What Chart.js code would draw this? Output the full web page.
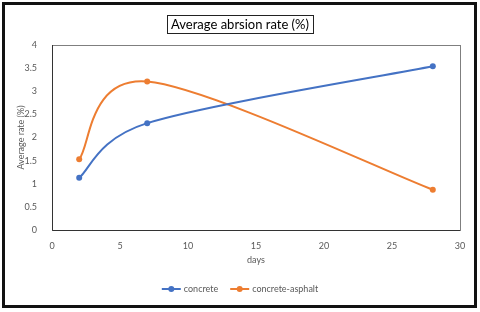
<!DOCTYPE html>
<html>
<head>
<meta charset="utf-8">
<script src="https://cdn.jsdelivr.net/npm/chart.js@4/dist/chart.umd.min.js"></script>
<style>
  body { margin: 0; background: #fff; }
  #wrap { width: 480px; height: 312px; }
</style>
</head>
<body>
<div id="wrap"><canvas id="abrasionChart" width="480" height="312"></canvas></div>
<script>
// chart values
const chartTitle = 'Average abrsion rate (%)';
const xTitle = 'days';
const yTitle = 'Average rate (%)';
const seriesNames = ['concrete', 'concrete-asphalt'];
const days = [2, 7, 28];
const concreteRate = [1.13, 2.31, 3.54];
const asphaltRate = [1.53, 3.21, 0.87];
const seriesColors = ['#4472c4', '#ed7d31'];

const FONT = 'Lato, "Open Sans", sans-serif';
const GREY = '#595959';

function toPoints(values) {
    return days.map((d, i) => ({ x: d, y: values[i] }));
}

// spreadsheet style smoothing: catmull-rom arms (1/6), capped on short segments
const smoothPlugin = {
    id: 'smooth',
    beforeDatasetsDraw(chart) {
        chart.data.datasets.forEach((ds, di) => {
            const meta = chart.getDatasetMeta(di);
            if (!meta.dataset) return;
            meta.dataset.updateControlPoints(chart.chartArea, 'x');
            const pts = meta.data;
            const n = pts.length;
            const dist = (a, b) => Math.hypot(b.x - a.x, b.y - a.y);
            for (let i = 0; i < n - 1; i++) {
                const p0 = pts[Math.max(i - 1, 0)];
                const p1 = pts[i];
                const p2 = pts[i + 1];
                const p3 = pts[Math.min(i + 2, n - 1)];
                const d12 = dist(p1, p2);
                const d02 = dist(p0, p2) || 1;
                const d13 = dist(p1, p3) || 1;
                const f0 = Math.min(1 / 6, 0.6 * d12 / d02);
                const f1 = Math.min(1 / 6, 0.6 * d12 / d13);
                p1.cp2x = p1.x + f0 * (p2.x - p0.x);
                p1.cp2y = p1.y + f0 * (p2.y - p0.y);
                p2.cp1x = p2.x - f1 * (p3.x - p1.x);
                p2.cp1y = p2.y - f1 * (p3.y - p1.y);
            }
        });
    }
};

// frame, title box, plot box, axis titles and legend
const decorPlugin = {
    id: 'decor',
    beforeDraw(chart) {
        const c = chart.ctx;
        c.save();
        c.fillStyle = '#fff';
        c.fillRect(0, 0, chart.width, chart.height);
        c.restore();
    },
    afterDraw(chart) {
        const c = chart.ctx;
        const area = chart.chartArea;
        c.save();

        // outer frame
        c.strokeStyle = '#111';
        c.lineWidth = 3;
        c.strokeRect(3.5, 3.5, 472, 303);

        // plot box
        c.strokeStyle = '#7f7f7f';
        c.lineWidth = 1;
        c.strokeRect(area.left + 0.5, area.top + 0.5, area.right - area.left, area.bottom - area.top);
        c.strokeStyle = '#333';
        c.beginPath();
        c.moveTo(area.left + 0.5, area.top);
        c.lineTo(area.left + 0.5, area.bottom + 0.5);
        c.lineTo(area.right, area.bottom + 0.5);
        c.stroke();

        // title with box
        c.font = '13px ' + FONT;
        c.fillStyle = '#000';
        c.textAlign = 'center';
        c.textBaseline = 'middle';
        const tw = c.measureText(chartTitle).width;
        c.fillText(chartTitle, 240, 24.5);
        c.strokeStyle = '#222';
        const bw = Math.round(tw + 8);
        c.strokeRect(Math.round(240 - bw / 2) + 0.5, 15.5, bw, 18);

        // axis titles
        c.font = '9px ' + FONT;
        c.fillStyle = GREY;
        c.fillText(xTitle, (area.left + area.right) / 2, 260);
        c.save();
        c.translate(21, (area.top + area.bottom) / 2);
        c.rotate(-Math.PI / 2);
        c.fillText(yTitle, 0, 0);
        c.restore();

        // legend
        const items = chart.data.datasets.map(ds => ({
            text: ds.label,
            color: ds.borderColor,
            w: 19 + 3 + c.measureText(ds.label).width
        }));
        const gap = 12;
        const total = items.reduce((s, it) => s + it.w, 0) + gap * (items.length - 1);
        let x = 240 - total / 2;
        const y = 289;
        c.textAlign = 'left';
        items.forEach(it => {
            c.strokeStyle = it.color;
            c.lineWidth = 2;
            c.beginPath();
            c.moveTo(x, y);
            c.lineTo(x + 19, y);
            c.stroke();
            c.fillStyle = it.color;
            c.beginPath();
            c.arc(x + 9.5, y, 3, 0, Math.PI * 2);
            c.fill();
            c.fillStyle = GREY;
            c.fillText(it.text, x + 22, y);
            x += it.w + gap;
        });
        c.restore();
    }
};

const ctx = document.getElementById('abrasionChart');
new Chart(ctx, {
    type: 'scatter',
    data: {
        datasets: [{
            label: seriesNames[0],
            data: toPoints(concreteRate),
            borderColor: seriesColors[0],
            backgroundColor: seriesColors[0],
            showLine: true,
            tension: 0.4,
            borderWidth: 2,
            pointRadius: 3,
            pointBorderWidth: 0
        }, {
            label: seriesNames[1],
            data: toPoints(asphaltRate),
            borderColor: seriesColors[1],
            backgroundColor: seriesColors[1],
            showLine: true,
            tension: 0.4,
            borderWidth: 2,
            pointRadius: 3,
            pointBorderWidth: 0
        }]
    },
    options: {
        responsive: false,
        animation: false,
        layout: { padding: { top: 45, right: 20, bottom: 0, left: 0 } },
        plugins: {
            legend: { display: false },
            title: { display: false },
            tooltip: { enabled: false }
        },
        scales: {
            x: {
                type: 'linear',
                min: 0,
                max: 30,
                ticks: { stepSize: 5, color: GREY, font: { family: FONT, size: 9 }, padding: 3 },
                grid: { display: false },
                border: { display: false },
                afterFit(scale) { scale.height = 82; }
            },
            y: {
                min: 0,
                max: 4,
                ticks: {
                    stepSize: 0.5, color: GREY, font: { family: FONT, size: 9 }, padding: 7,
                    callback: v => String(v)
                },
                grid: { display: false },
                border: { display: false },
                afterFit(scale) { scale.width = 52; }
            }
        }
    },
    plugins: [smoothPlugin, decorPlugin]
});
</script>
</body>
</html>
